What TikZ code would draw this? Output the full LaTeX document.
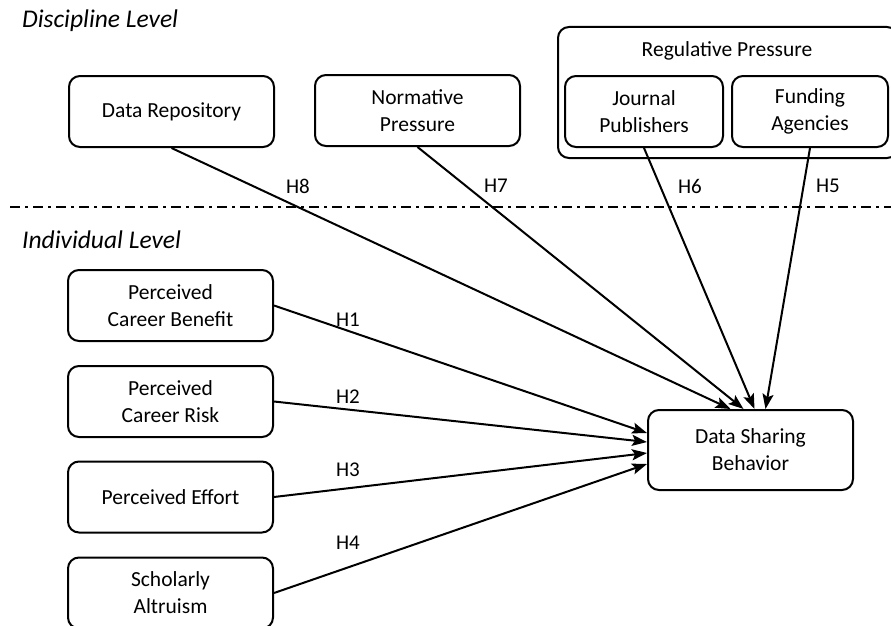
\documentclass[tikz,border=0pt]{standalone}
\usepackage{fontspec}
\setmainfont{Carlito}
\usetikzlibrary{arrows.meta,calc}
\begin{document}
\begin{tikzpicture}[x=1pt,y=-1pt,
  box/.style={draw,line width=2pt,rounded corners=11pt,align=center,
    inner sep=0pt,font=\fontsize{21.5}{27}\selectfont},
  lvl/.style={font=\fontsize{25.5}{29}\selectfont\itshape,anchor=west,inner sep=0pt},
  hlab/.style={font=\fontsize{21}{24}\selectfont,inner sep=0pt},
  arr/.style={line width=2pt,-{Stealth[length=15pt,width=11pt,inset=3pt]}}]
\useasboundingbox (0,0) rectangle (891,626);
% levels
\node[lvl] (dl) at (22,21) {Discipline Level};
\node[lvl] (il) at (22,240) {Individual Level};
\coordinate (dashL) at (10,207);
\coordinate (dashR) at (891,207);
\draw[line width=2pt,dash pattern=on 10pt off 5pt on 3pt off 5pt] (dashL) -- (dashR);
% discipline boxes
\node[box,minimum width=205pt,minimum height=71pt] (dr) at (171.5,111.5) {Data Repository};
\node[box,minimum width=205pt,minimum height=71pt] (np) at (417.5,110.5) {Normative\\Pressure};
\node[box,minimum width=340pt,minimum height=131pt,anchor=north west] (rp) at (557,26) {};
\node[font=\fontsize{21.5}{24}\selectfont,inner sep=0pt] (rpl) at (727,51) {Regulative Pressure};
\node[box,minimum width=158pt,minimum height=71pt] (jp) at (644,111.5) {Journal\\Publishers};
\node[box,minimum width=156pt,minimum height=71pt] (fa) at (810,111.5) {Funding\\Agencies};
% individual boxes
\node[box,minimum width=205pt,minimum height=71pt] (pcb) at (170.5,305.5) {Perceived\\Career Benefit};
\node[box,minimum width=205pt,minimum height=71pt] (pcr) at (170.5,401.5) {Perceived\\Career Risk};
\node[box,minimum width=205pt,minimum height=71pt] (pe) at (170.5,497) {Perceived Effort};
\node[box,minimum width=205pt,minimum height=71pt] (sa) at (170.5,593) {Scholarly\\Altruism};
\node[box,minimum width=205pt,minimum height=80pt] (dsb) at (750.5,450) {Data Sharing\\Behavior};
% arrows
\draw[arr] (dr.south) -- ($(dsb.north)+(-20,0)$);
\draw[arr] (np.south) -- ($(dsb.north)+(-7,0)$);
\draw[arr] (jp.south) -- ($(dsb.north)+(4,0)$);
\draw[arr] (fa.south) -- ($(dsb.north)+(15,0)$);
\draw[arr] (pcb.east) -- ($(dsb.west)+(0,-17)$);
\draw[arr] (pcr.east) -- ($(dsb.west)+(0,-8)$);
\draw[arr] (pe.east) -- ($(dsb.west)+(0,3)$);
\draw[arr] (sa.east) -- ($(dsb.west)+(0,14)$);
% labels
\node[hlab] (h8) at (298,186) {H8};
\node[hlab] (h7) at (496,186) {H7};
\node[hlab] (h6) at (690,186) {H6};
\node[hlab] (h5) at (828,186) {H5};
\node[hlab] (h1) at (348,320) {H1};
\node[hlab] (h2) at (348,397) {H2};
\node[hlab] (h3) at (348,470) {H3};
\node[hlab] (h4) at (348,543) {H4};
\end{tikzpicture}
\end{document}
